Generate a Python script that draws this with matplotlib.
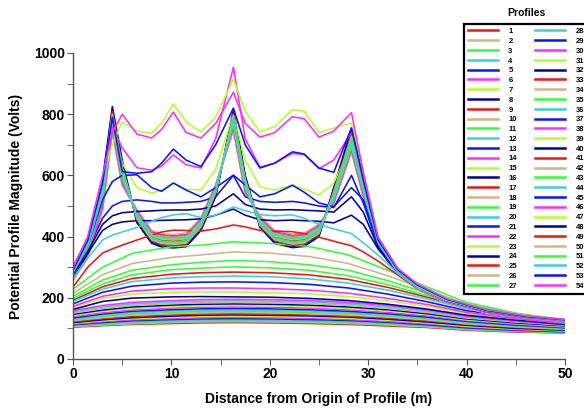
import numpy as np
import matplotlib
matplotlib.use("Agg")
import matplotlib.pyplot as plt
from matplotlib.lines import Line2D
from matplotlib.ticker import MultipleLocator

plt.rcParams["font.family"] = ["Liberation Sans", "DejaVu Sans"]
plt.rcParams["font.weight"] = "bold"

# colour cycle used for profile numbers 1..54
profile_colors = ["#f01414", "#d2b48c", "#33ff33", "#3fd0d0",
                  "#0a14ff", "#ff2bff", "#b4ff2a", "#0000a0"]

# x positions for the profiles that pass near the electrodes
x_fine = [0, 1.5, 3, 4, 5, 6.5, 8, 9, 10.2, 11.5, 13, 14.5, 16.3, 17.5, 19,
          20.5, 22.3, 23.5, 25, 26.5, 28.3, 29.5, 31, 33, 35, 38, 42, 46, 50]
# x positions for the smooth far profiles
x_coarse = [0, 3, 6, 10, 13, 16.3, 20, 24, 28, 32, 36, 40, 45, 50]

# wavy profiles above the electrode valleys
wavy_ids = [47, 54, 46, 53, 39, 45, 37, 48, 44, 40, 41]
wavy = [
    [295, 395, 590, 700, 775, 745, 738, 770, 833, 775, 742, 790, 915, 810, 742, 760, 815, 810, 740, 755, 771, 620, 400, 298, 246, 198, 162, 142, 130],
    [298, 400, 600, 740, 800, 735, 722, 750, 807, 740, 722, 770, 872, 770, 725, 740, 792, 785, 725, 745, 805, 610, 398, 296, 245, 197, 161, 141, 129],
    [293, 390, 580, 760, 690, 625, 617, 630, 667, 635, 624, 720, 954, 720, 627, 640, 672, 668, 622, 650, 740, 590, 392, 294, 243, 196, 160, 140, 128],
    [290, 388, 575, 790, 612, 607, 612, 640, 686, 650, 629, 700, 820, 700, 624, 640, 677, 670, 624, 610, 755, 585, 390, 292, 242, 195, 159, 139, 128],
    [288, 380, 560, 780, 640, 560, 542, 552, 575, 555, 552, 620, 800, 650, 563, 552, 568, 555, 536, 575, 700, 570, 385, 289, 240, 194, 158, 139, 127],
    [283, 370, 520, 580, 600, 602, 560, 548, 575, 552, 530, 560, 601, 569, 530, 540, 568, 545, 510, 498, 560, 520, 375, 286, 237, 192, 157, 138, 127],
    [278, 358, 460, 500, 515, 520, 515, 510, 510, 512, 515, 530, 600, 530, 515, 512, 515, 510, 500, 495, 600, 510, 370, 285, 237, 191, 156, 138, 126],
    [275, 352, 440, 468, 478, 482, 484, 486, 487, 487, 490, 500, 540, 505, 490, 487, 488, 486, 484, 480, 530, 480, 365, 284, 236, 190, 156, 137, 126],
    [262, 330, 389, 405, 415, 430, 450, 462, 471, 475, 462, 470, 497, 485, 472, 468, 471, 460, 440, 425, 410, 380, 340, 280, 236, 191, 156, 137, 126],
    [270, 345, 420, 440, 448, 452, 452, 453, 454, 455, 458, 470, 490, 470, 455, 452, 454, 452, 450, 445, 470, 440, 360, 282, 235, 190, 155, 137, 126],
    [235, 300, 346, 360, 372, 389, 405, 415, 421, 420, 418, 425, 438, 432, 420, 418, 416, 410, 398, 385, 370, 350, 320, 275, 232, 188, 155, 136, 125],
]

# profiles running over the three electrode peaks
bundle_ids = [32, 29, 49, 50, 51, 52, 33, 42, 43, 36, 31, 38, 25, 34]
bundle = [
    [300, 395, 585, 825, 650, 445, 378, 366, 363, 367, 420, 530, 815, 600, 430, 378, 364, 368, 400, 560, 755, 590, 390, 292, 242, 196, 162, 141, 129],
    [296, 390, 575, 815, 640, 450, 382, 370, 367, 371, 425, 535, 805, 595, 432, 382, 368, 372, 405, 555, 745, 585, 388, 290, 240, 195, 161, 140, 128],
    [292, 385, 565, 810, 630, 455, 386, 374, 371, 375, 428, 540, 800, 590, 435, 386, 372, 376, 408, 550, 735, 580, 386, 288, 238, 194, 160, 140, 128],
    [288, 380, 555, 800, 625, 458, 390, 378, 375, 379, 432, 545, 795, 585, 438, 390, 376, 380, 411, 545, 728, 575, 384, 287, 237, 193, 159, 139, 127],
    [285, 375, 548, 792, 618, 462, 393, 382, 379, 383, 435, 548, 790, 580, 441, 393, 380, 384, 414, 540, 720, 570, 382, 285, 236, 192, 158, 138, 127],
    [282, 370, 540, 785, 610, 465, 396, 385, 382, 386, 438, 550, 785, 575, 444, 396, 383, 387, 417, 535, 712, 565, 380, 284, 235, 191, 157, 138, 126],
    [278, 365, 532, 778, 605, 468, 399, 388, 386, 390, 441, 553, 780, 570, 447, 399, 386, 390, 420, 530, 705, 560, 378, 283, 234, 190, 156, 137, 126],
    [275, 360, 525, 770, 598, 471, 402, 392, 389, 393, 444, 556, 775, 565, 450, 402, 390, 394, 423, 526, 700, 555, 376, 281, 233, 189, 155, 137, 125],
    [272, 355, 518, 765, 592, 474, 405, 395, 392, 396, 447, 558, 770, 560, 453, 405, 393, 397, 426, 522, 695, 550, 374, 280, 232, 188, 155, 136, 125],
    [268, 350, 510, 760, 585, 477, 408, 398, 395, 399, 450, 560, 765, 555, 456, 408, 396, 400, 429, 518, 690, 545, 372, 279, 231, 187, 154, 136, 124],
    [265, 345, 502, 755, 580, 480, 411, 401, 398, 402, 453, 562, 760, 550, 459, 411, 399, 403, 432, 515, 686, 540, 370, 278, 230, 186, 153, 135, 124],
    [262, 340, 495, 750, 575, 483, 414, 404, 401, 405, 456, 565, 755, 548, 462, 414, 402, 406, 435, 512, 683, 536, 368, 277, 229, 185, 152, 135, 123],
    [258, 335, 490, 745, 570, 486, 417, 407, 404, 408, 459, 568, 750, 545, 465, 417, 405, 409, 438, 510, 680, 532, 366, 276, 228, 184, 151, 134, 123],
    [255, 330, 485, 740, 565, 489, 420, 410, 407, 411, 462, 570, 745, 542, 468, 420, 408, 412, 441, 508, 678, 528, 364, 275, 227, 183, 150, 134, 122],
]

# smooth far profiles, from top to bottom
smooth_ids = [35, 26, 27, 19, 17, 28, 21, 30, 23, 24,
              22, 20, 18, 16, 15, 14, 13, 12, 11, 10, 9, 8, 7, 6, 5, 4, 3, 2, 1]
smooth = [
    [228, 300, 345, 367, 372, 383, 378, 368, 340, 290, 235, 185, 150, 128],
    [215, 275, 312, 332, 340, 350, 346, 335, 312, 272, 225, 180, 148, 126],
    [205, 258, 290, 308, 316, 322, 318, 308, 290, 256, 215, 176, 145, 124],
    [198, 245, 275, 292, 297, 301, 298, 290, 272, 243, 207, 172, 143, 123],
    [192, 236, 263, 277, 282, 284, 282, 275, 260, 234, 202, 168, 141, 121],
    [188, 228, 253, 265, 269, 271, 269, 262, 248, 225, 196, 164, 139, 120],
    [180, 218, 238, 248, 251, 252, 250, 244, 232, 212, 187, 158, 136, 118],
    [172, 205, 222, 230, 232, 232, 230, 225, 215, 198, 178, 152, 132, 116],
    [168, 198, 212, 218, 219, 219, 217, 213, 204, 190, 172, 148, 130, 115],
    [162, 188, 199, 203, 204, 203, 202, 198, 191, 179, 163, 143, 127, 113],
    [158, 175, 185, 191, 194, 195, 194, 191, 185, 175, 160, 140, 125, 112],
    [154, 170, 180, 186, 189, 190, 189, 186, 180, 170, 156, 137, 123, 111],
    [150, 165, 175, 181, 184, 185, 184, 181, 175, 165, 152, 134, 121, 110],
    [146, 160, 170, 176, 179, 180, 179, 176, 170, 161, 148, 131, 118, 108],
    [142, 156, 165, 171, 174, 175, 174, 171, 165, 157, 145, 128, 116, 106],
    [138, 151, 160, 166, 169, 170, 169, 166, 161, 152, 141, 126, 114, 104],
    [134, 147, 156, 161, 164, 165, 164, 161, 156, 148, 137, 123, 111, 102],
    [131, 143, 151, 157, 159, 160, 159, 157, 152, 144, 134, 120, 109, 101],
    [128, 139, 147, 152, 155, 156, 155, 152, 148, 141, 131, 118, 107, 99],
    [125, 135, 143, 148, 151, 152, 151, 148, 144, 137, 128, 115, 105, 97],
    [122, 132, 139, 144, 147, 148, 147, 144, 140, 134, 125, 113, 103, 96],
    [119, 128, 135, 140, 143, 144, 143, 141, 137, 130, 121, 110, 100, 94],
    [117, 125, 132, 136, 139, 140, 139, 137, 133, 127, 118, 107, 98, 92],
    [114, 122, 128, 132, 135, 136, 135, 133, 129, 123, 115, 105, 96, 91],
    [112, 119, 125, 129, 131, 132, 131, 129, 126, 120, 112, 102, 94, 89],
    [110, 116, 121, 125, 127, 128, 127, 125, 122, 117, 109, 100, 92, 88],
    [108, 113, 118, 122, 124, 125, 124, 122, 119, 114, 107, 98, 91, 87],
    [106, 111, 115, 119, 121, 122, 121, 119, 116, 111, 105, 96, 90, 86],
    [104, 109, 113, 116, 118, 119, 118, 116, 113, 108, 103, 94, 88, 85],
]

curves = {}
for ids, vals_list, xs in [(smooth_ids, smooth, x_coarse),
                           (bundle_ids, bundle, x_fine),
                           (wavy_ids, wavy, x_fine)]:
    for pid, vals in zip(ids, vals_list):
        curves[pid] = (xs, vals)


def color_of(pid):
    return profile_colors[(pid - 1) % len(profile_colors)]


fig = plt.figure(figsize=(5.84, 4.12), dpi=100)
ax = fig.add_axes([73 / 584, 1 - 359 / 412, (565 - 73) / 584, (359 - 53) / 412])

for pid in sorted(curves):
    xs, vals = curves[pid]
    ax.plot(xs, vals, color=color_of(pid), lw=1.15)

ax.set_xlim(0, 50)
ax.set_ylim(0, 1000)
ax.xaxis.set_major_locator(MultipleLocator(10))
ax.xaxis.set_minor_locator(MultipleLocator(5))
ax.yaxis.set_major_locator(MultipleLocator(200))
ax.yaxis.set_minor_locator(MultipleLocator(100))
for s in ["top", "right"]:
    ax.spines[s].set_visible(False)
for s in ["left", "bottom"]:
    ax.spines[s].set_color("#555555")
    ax.spines[s].set_linewidth(1.0)
ax.tick_params(which="both", direction="out", length=4, color="#555555",
               labelsize=10, pad=2)
for lab in ax.get_xticklabels() + ax.get_yticklabels():
    lab.set_fontweight("bold")

ax.set_xlabel("Distance from Origin of Profile (m)", fontsize=10,
              fontweight="bold", labelpad=8)
ax.set_ylabel("Potential Profile Magnitude (Volts)", fontsize=10,
              fontweight="bold", labelpad=8)

handles = [Line2D([], [], color=color_of(pid), lw=1.8) for pid in sorted(curves)]
labels = [str(pid) for pid in sorted(curves)]
leg = ax.legend(handles, labels, ncol=2, loc="upper left",
                bbox_to_anchor=(464 / 584, 1 - 24 / 412),
                bbox_transform=fig.transFigure, borderaxespad=0,
                fontsize=5.5, handlelength=3.9, handletextpad=1.4,
                columnspacing=2.4, labelspacing=0.32, borderpad=0.5,
                frameon=True, fancybox=False, framealpha=1)
leg.get_frame().set_edgecolor("black")
leg.get_frame().set_linewidth(1.6)
for t in leg.get_texts():
    t.set_fontweight("bold")

fig.text(526 / 584, 1 - 13 / 412, "Profiles", ha="center", va="center",
         fontsize=7.5, fontweight="bold")

fig.savefig("out.png", dpi=100)
